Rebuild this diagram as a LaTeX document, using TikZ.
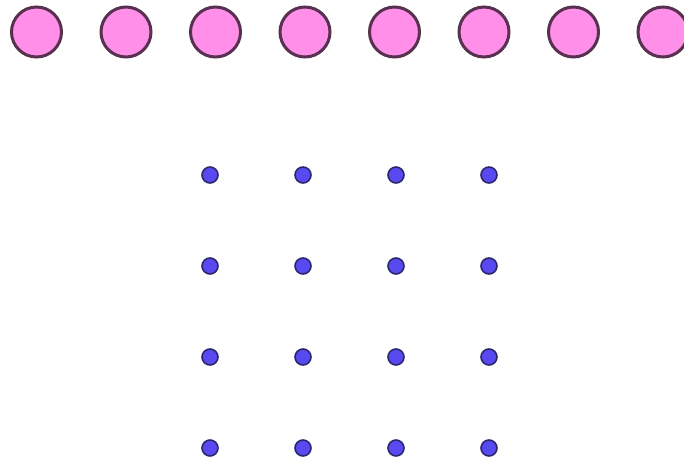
\documentclass[tikz,border=0pt]{standalone}
\usepackage[dvipsnames]{xcolor}
\usepackage{tikz}
\definecolor{beadpink}{RGB}{255,143,232}
\definecolor{beadrim}{RGB}{88,48,80}
\definecolor{dotblue}{RGB}{88,74,240}
\definecolor{dotrim}{RGB}{44,40,110}
\begin{document}
\begin{tikzpicture}[x=1pt,y=-1pt,
        bead/.style={circle,draw=beadrim,fill=beadpink,line width=3pt,inner sep=0pt,minimum size=50pt},
        gridpt/.style={circle,draw=dotrim,fill=dotblue,line width=1.6pt,inner sep=0pt,minimum size=16pt}]
        \useasboundingbox (0, 0) rectangle (684, 463);
        \clip (0, 0) rectangle (684, 463);
        \node[bead] (b1) at (36.5, 32) {};
        \node[bead] (b2) at (126, 32) {};
        \node[bead] (b3) at (215.5, 32) {};
        \node[bead] (b4) at (305, 32) {};
        \node[bead] (b5) at (394.5, 32) {};
        \node[bead] (b6) at (484, 32) {};
        \node[bead] (b7) at (573.5, 32) {};
        \node[bead] (b8) at (663, 32) {};
        \node[gridpt] (p11) at (210, 175) {};
        \node[gridpt] (p12) at (303, 175) {};
        \node[gridpt] (p13) at (396, 175) {};
        \node[gridpt] (p14) at (489, 175) {};
        \node[gridpt] (p21) at (210, 266) {};
        \node[gridpt] (p22) at (303, 266) {};
        \node[gridpt] (p23) at (396, 266) {};
        \node[gridpt] (p24) at (489, 266) {};
        \node[gridpt] (p31) at (210, 357) {};
        \node[gridpt] (p32) at (303, 357) {};
        \node[gridpt] (p33) at (396, 357) {};
        \node[gridpt] (p34) at (489, 357) {};
        \node[gridpt] (p41) at (210, 448) {};
        \node[gridpt] (p42) at (303, 448) {};
        \node[gridpt] (p43) at (396, 448) {};
        \node[gridpt] (p44) at (489, 448) {};
    \end{tikzpicture}
\end{document}
